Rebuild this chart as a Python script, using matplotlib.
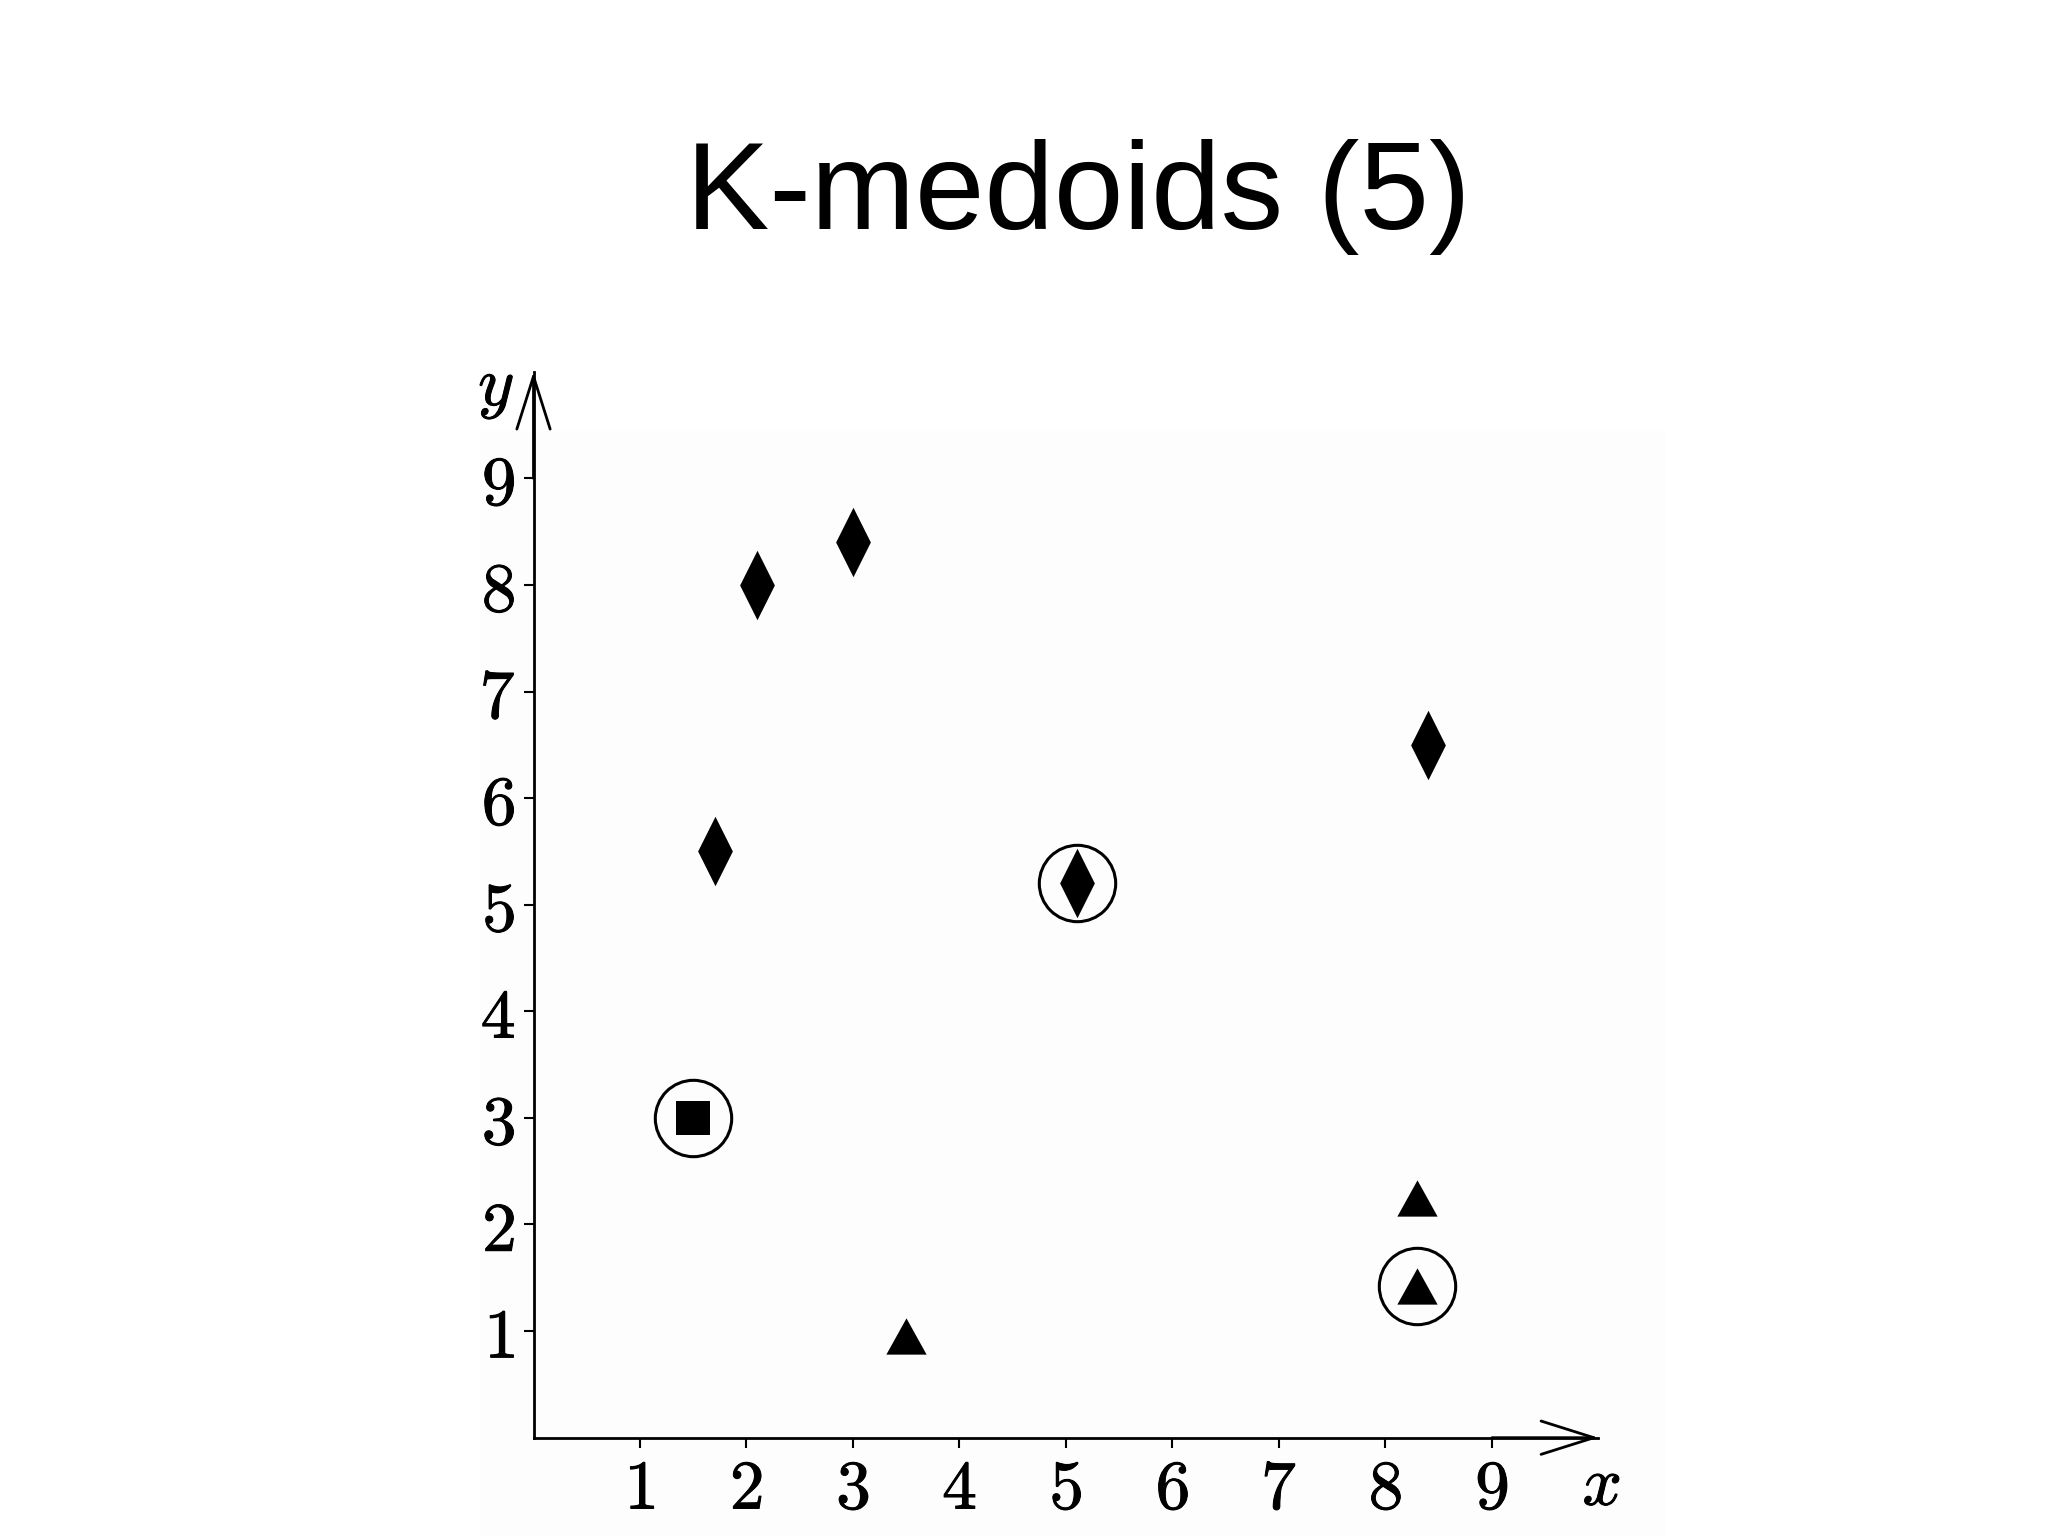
import matplotlib
matplotlib.use("Agg")
import matplotlib.pyplot as plt
import matplotlib.patheffects as pe
from matplotlib.patches import Rectangle

plt.rcParams['mathtext.fontset'] = 'cm'

# cluster 1: diamonds (medoid at 5.1, 5.2)
diamond_x = [2.1, 3.0, 1.7, 8.4, 5.1]
diamond_y = [8.0, 8.4, 5.5, 6.5, 5.2]
# cluster 2: square (is its own medoid)
square_x = [1.5]
square_y = [3.0]
# cluster 3: triangles (medoid at 8.3, 1.42)
triangle_x = [3.5, 8.3, 8.3]
triangle_y = [0.95, 2.25, 1.42]

medoid_x = [5.1, 1.5, 8.3]
medoid_y = [5.2, 3.0, 1.42]

ticks = [1, 2, 3, 4, 5, 6, 7, 8, 9]
title = "K-medoids (5)"

fig = plt.figure(figsize=(20.48, 15.36), dpi=100)
fig.patch.set_facecolor('white')

# faint background of the pasted figure
fig.patches.append(Rectangle((480 / 2048, 0), (1665 - 480) / 2048, 1 - 431 / 1536,
                             transform=fig.transFigure, facecolor='#fdfdfd', edgecolor='none', zorder=-5))

fig.text(0.5265, 0.851, title, fontsize=90, family='Liberation Sans', ha='center', va='baseline')

ax = fig.add_axes([0.2605, 0.064, 0.52, 0.694])
ax.set_facecolor('none')
ax.set_xlim(0, 10)
ax.set_ylim(0, 10)

diamond = [(0, 1), (0.5, 0), (0, -1), (-0.5, 0), (0, 1)]
triangle = [(0, 0.9), (-1, -0.9), (1, -0.9), (0, 0.9)]

ax.plot(diamond_x, diamond_y, linestyle='none', marker=diamond, markersize=50,
        color='black', markeredgewidth=0, clip_on=False)
ax.plot(square_x, square_y, linestyle='none', marker='s', markersize=25,
        color='black', markeredgewidth=0, clip_on=False)
ax.plot(triangle_x, triangle_y, linestyle='none', marker=triangle, markersize=29,
        color='black', markeredgewidth=0, clip_on=False)
ax.plot(medoid_x, medoid_y, linestyle='none', marker='o', markersize=55,
        markerfacecolor='none', markeredgecolor='black', markeredgewidth=2.2, clip_on=False)

for s in ['top', 'right']:
    ax.spines[s].set_visible(False)
for s in ['left', 'bottom']:
    ax.spines[s].set_linewidth(2.0)

ax.set_xticks(ticks)
ax.set_yticks(ticks)
ax.set_xticklabels([f'${t}$' for t in ticks])
ax.set_yticklabels([f'${t}$' for t in ticks])
ax.tick_params(direction='out', length=7, width=1.5, labelsize=50, pad=6)
bold = [pe.withStroke(linewidth=0.7, foreground='black')]
for lbl in ax.get_xticklabels() + ax.get_yticklabels():
    lbl.set_path_effects(bold)

# open arrowheads at the ends of the axes
arrow = dict(arrowstyle='->, head_length=0.95, head_width=0.3', lw=2.0,
             mutation_scale=40, shrinkA=0, shrinkB=0, color='black')
ax.annotate('', xy=(10, 0), xytext=(9, 0), arrowprops=arrow, annotation_clip=False)
ax.annotate('', xy=(0, 10), xytext=(0, 9), arrowprops=arrow, annotation_clip=False)

ax.text(-0.35, 9.84, '$y$', fontsize=50, ha='center', va='center', path_effects=bold)
ax.text(10.03, -0.45, '$x$', fontsize=50, ha='center', va='center', path_effects=bold)

plt.savefig('out.png', dpi=100)
